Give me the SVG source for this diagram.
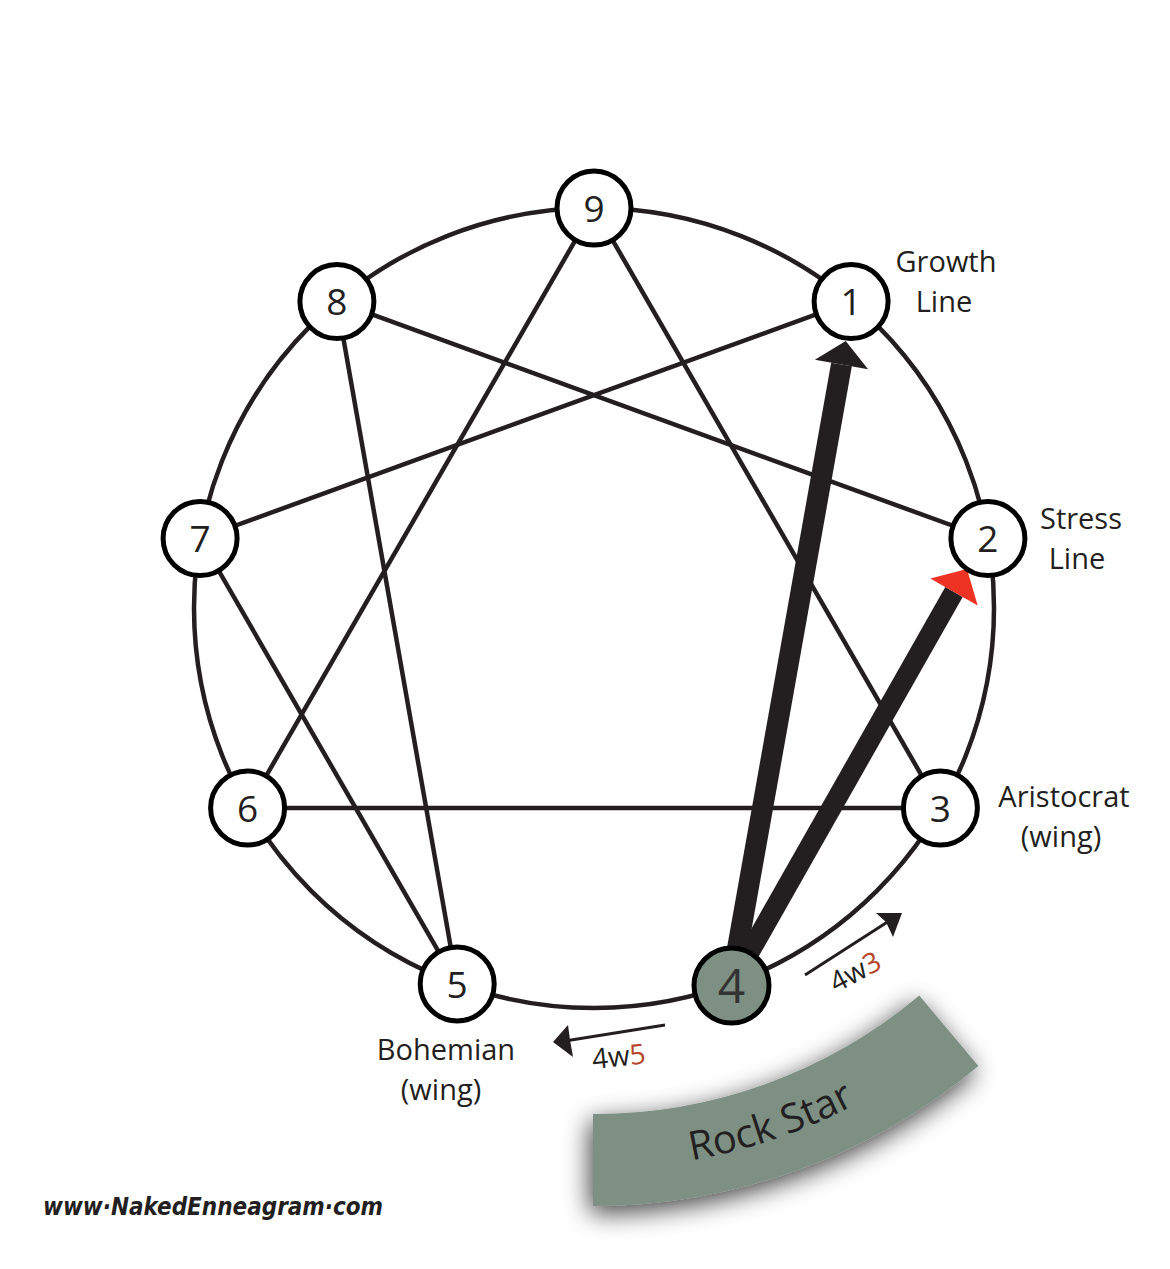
<svg xmlns="http://www.w3.org/2000/svg" width="1170" height="1269" viewBox="0 0 1170 1269">
  <defs>
    <style>
      .ring { fill: none; stroke: #231f20; stroke-width: 4.5; }
      .ln { stroke: #231f20; stroke-width: 4.5; fill: none; }
      .thick { stroke: #231f20; stroke-width: 21; fill: none; }
      .wing { stroke: #231f20; stroke-width: 3; fill: none; }
      .head { fill: #231f20; }
      .node { fill: #ffffff; stroke: #000000; stroke-width: 5; }
      .node4 { fill: #7e9084; stroke: #000000; stroke-width: 5; }
      .num { font-family: "Open Sans", "Noto Sans", sans-serif; font-size: 37px; fill: #231f20; text-anchor: middle; }
      .lbl { font-family: "Open Sans", "Noto Sans", sans-serif; font-size: 29px; fill: #231f20; text-anchor: middle; }
      .wl { font-family: "Open Sans", "Noto Sans", sans-serif; font-size: 28px; fill: #231f20; }
      .red { fill: #b5462b; }
    </style>
    <filter id="shadow" x="-30%" y="-50%" width="160%" height="200%">
      <feGaussianBlur in="SourceAlpha" stdDeviation="13"/>
      <feOffset dx="-3" dy="7" result="b"/>
      <feComponentTransfer><feFuncA type="linear" slope="0.75"/></feComponentTransfer>
      <feMerge><feMergeNode/><feMergeNode in="SourceGraphic"/></feMerge>
    </filter>
    <path id="bandText" d="M 594 1169 A 561 561 0 0 0 954.6 1037.7"/>
  </defs>

  <rect width="1170" height="1269" fill="#ffffff"/>

  <circle class="ring" cx="594" cy="608" r="400"/>

  <g id="connectors">
    <line class="ln" x1="594" y1="208" x2="940.4" y2="808"/>
    <line class="ln" x1="594" y1="208" x2="247.6" y2="808"/>
    <line class="ln" x1="247.6" y1="808" x2="940.4" y2="808"/>
    <line class="ln" x1="851.1" y1="301.6" x2="200.1" y2="538.5"/>
    <line class="ln" x1="200.1" y1="538.5" x2="457.2" y2="983.9"/>
    <line class="ln" x1="457.2" y1="983.9" x2="336.9" y2="301.6"/>
    <line class="ln" x1="336.9" y1="301.6" x2="987.9" y2="538.5"/>
    <!-- growth line 4 -> 1 -->
    <line class="thick" x1="731" y1="985" x2="841.5" y2="364.5"/>
    <polygon class="head" points="845.7,341 868.1,369.2 814.9,359.8"/>
    <!-- stress line 4 -> 2 -->
    <line class="thick" x1="731" y1="985" x2="954" y2="592" style="stroke-width:20"/>
    <polygon points="967,569 977.7,605.5 930.3,578.5" fill="#ee3224"/>
    <!-- wing arrows -->
    <line class="wing" x1="805" y1="975" x2="889" y2="921"/>
    <polygon class="head" points="902,913 893,937 886,922 876,913"/>
    <line class="wing" x1="665" y1="1025" x2="568" y2="1040.5"/>
    <polygon class="head" points="553,1042 568,1025 570,1040 573,1057"/>
  </g>

  <g id="rock-star-band">
    <path d="M 593 1114 A 506 506 0 0 0 919.3 995.6 L 978.4 1066.1 A 598 598 0 0 1 593 1206 Z" fill="#7e9084" filter="url(#shadow)"/>
    <text font-family="'Open Sans', 'Noto Sans', sans-serif" font-size="40" fill="#231f20" text-anchor="middle">
      <textPath href="#bandText" startOffset="185">Rock Star</textPath>
    </text>
  </g>

  <g id="node-9"><circle class="node" cx="594" cy="208" r="37"/><text class="num" x="594" y="222">9</text></g>
  <g id="node-1"><circle class="node" cx="851.1" cy="301.6" r="37"/><text class="num" x="851.1" y="315">1</text></g>
  <g id="node-2"><circle class="node" cx="987.9" cy="538.5" r="37"/><text class="num" x="987.9" y="552">2</text></g>
  <g id="node-3"><circle class="node" cx="940.4" cy="808" r="37"/><text class="num" x="940.4" y="821.5">3</text></g>
  <g id="node-4"><circle class="node4" cx="731.5" cy="985.5" r="37.5"/><text x="731.5" y="1003" font-family="'Open Sans', 'Noto Sans', sans-serif" font-size="48" fill="#333333" text-anchor="middle">4</text></g>
  <g id="node-5"><circle class="node" cx="457.2" cy="983.9" r="37"/><text class="num" x="457.2" y="997.5">5</text></g>
  <g id="node-6"><circle class="node" cx="247.6" cy="808" r="37"/><text class="num" x="247.6" y="821.5">6</text></g>
  <g id="node-7"><circle class="node" cx="200.1" cy="538.5" r="37"/><text class="num" x="200.1" y="552">7</text></g>
  <g id="node-8"><circle class="node" cx="336.9" cy="301.6" r="37"/><text class="num" x="336.9" y="315">8</text></g>

  <g id="labels">
    <text class="lbl" x="946" y="272">Growth</text>
    <text class="lbl" x="944" y="312">Line</text>
    <text class="lbl" x="1081" y="529">Stress</text>
    <text class="lbl" x="1077" y="569">Line</text>
    <text class="lbl" x="1064" y="807">Aristocrat</text>
    <text class="lbl" x="1061" y="847">(wing)</text>
    <text class="lbl" x="446" y="1060">Bohemian</text>
    <text class="lbl" x="441" y="1100">(wing)</text>
    <text class="wl" transform="translate(836 993) rotate(-28)">4w<tspan class="red">3</tspan></text>
    <text class="wl" transform="translate(593 1069) rotate(-6)">4w<tspan class="red">5</tspan></text>
    <text x="43" y="1215" font-family="'DejaVu Sans', sans-serif" font-style="italic" font-weight="bold" font-size="24" fill="#231f20" textLength="340" lengthAdjust="spacingAndGlyphs">www·NakedEnneagram·com</text>
  </g>
</svg>
